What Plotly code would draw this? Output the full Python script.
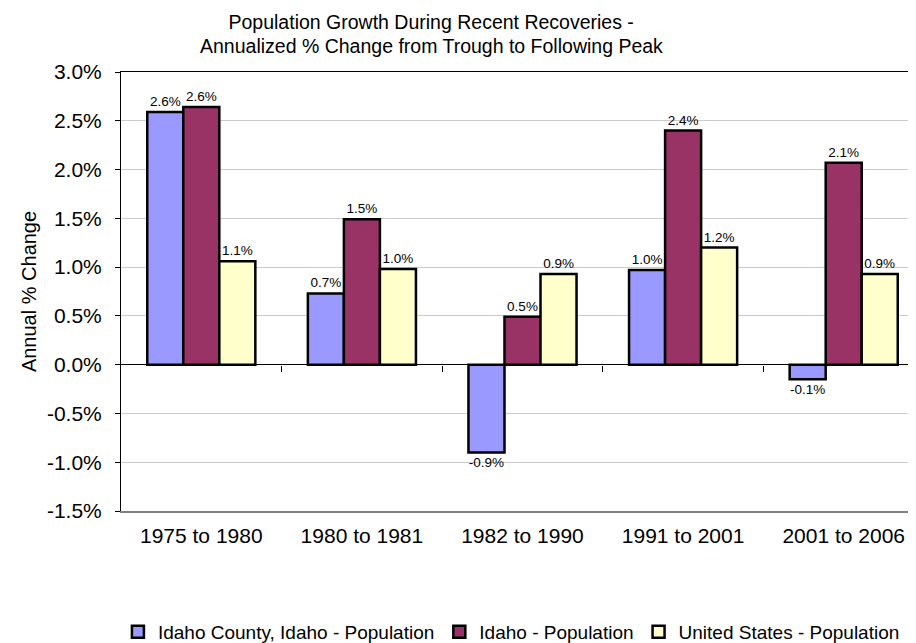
import plotly.graph_objects as go

categories = ["1975 to 1980", "1980 to 1981", "1982 to 1990", "1991 to 2001", "2001 to 2006"]
idaho_county = [2.59, 0.73, -0.90, 0.97, -0.15]
idaho = [2.64, 1.49, 0.49, 2.40, 2.07]
united_states = [1.06, 0.98, 0.93, 1.20, 0.93]

series_names = ["Idaho County, Idaho - Population", "Idaho - Population", "United States - Population"]
series_values = [idaho_county, idaho, united_states]
colors = ["#9999FF", "#993366", "#FFFFCC"]

y_ticks = [-1.5, -1.0, -0.5, 0.0, 0.5, 1.0, 1.5, 2.0, 2.5, 3.0]
y_tick_labels = ["-1.5%", "-1.0%", "-0.5%", "0.0%", "0.5%", "1.0%", "1.5%", "2.0%", "2.5%", "3.0%"]
boundaries = [0.5, 1.5, 2.5, 3.5]

title_line1 = "Population Growth During Recent Recoveries -"
title_line2 = "Annualized % Change from Trough to Following Peak"

FONT = "Liberation Sans, Arial, Helvetica, sans-serif"

fig = go.Figure()
for name, vals, col in zip(series_names, series_values, colors):
    fig.add_trace(go.Bar(
        x=categories, y=vals, name=name,
        marker=dict(color=col, line=dict(color="black", width=2.5)),
        texttemplate="%{y:.1f}%", textposition="outside",
        textfont=dict(size=13.5, color="black", family=FONT),
        constraintext="none", cliponaxis=False,
    ))

# helper axes (zero-line tick marks and top frame line)
fig.add_trace(go.Scatter(x=[], y=[], xaxis="x2", yaxis="y", showlegend=False, hoverinfo="skip"))
fig.add_trace(go.Scatter(x=[], y=[], xaxis="x3", yaxis="y", showlegend=False, hoverinfo="skip"))

fig.update_layout(
    width=916, height=643,
    paper_bgcolor="white", plot_bgcolor="white",
    margin=dict(l=113, r=0, t=64, b=140, autoexpand=False),
    font=dict(family=FONT, size=20, color="black"),
    title=dict(
        text=title_line1,
        x=0.462, xref="container", xanchor="center",
        y=1 - 14 / 643, yref="container", yanchor="middle",
        font=dict(size=19.5, family=FONT, color="black"),
    ),
    annotations=[dict(
        text=title_line2, xref="paper", yref="paper",
        x=(423 - 113) / 803, y=(503 - 38) / 439,
        xanchor="center", yanchor="middle", showarrow=False,
        font=dict(size=19.5, family=FONT, color="black"),
    )],
    barmode="group", bargap=0.327, bargroupgap=0,
    showlegend=True,
    legend=dict(
        orientation="h", x=0.12, xref="container", xanchor="left",
        y=0.0, yref="container", yanchor="bottom",
        font=dict(size=19, family=FONT, color="black"),
        itemwidth=30, tracegroupgap=0, bgcolor="rgba(0,0,0,0)",
    ),
    xaxis=dict(
        type="category", categoryorder="array", categoryarray=categories,
        range=[-0.5, 4.5],
        showline=True, linecolor="#808080", linewidth=2,
        ticks="", showgrid=False, zeroline=False,
        ticklabelstandoff=5, tickangle=0,
        tickfont=dict(size=21, family=FONT, color="black"),
    ),
    xaxis2=dict(
        overlaying="x", anchor="free", position=1/3,
        type="linear", range=[-0.5, 4.5],
        tickvals=boundaries, ticks="outside", ticklen=6, tickcolor="black",
        showticklabels=False, showline=False, showgrid=False, zeroline=False,
    ),
    xaxis3=dict(
        overlaying="x", anchor="y", side="top",
        type="linear", range=[-0.5, 4.5],
        showline=True, linecolor="black", linewidth=1,
        ticks="", showticklabels=False, showgrid=False, zeroline=False,
    ),
    yaxis=dict(
        range=[-1.5, 3.0], tickvals=y_ticks, ticktext=y_tick_labels,
        showline=True, linecolor="black", linewidth=1,
        ticks="outside", ticklen=5, tickcolor="black",
        showgrid=True, gridcolor="#CCCCCC", gridwidth=1,
        zeroline=True, zerolinecolor="black", zerolinewidth=1,
        ticklabelstandoff=9,
        tickfont=dict(size=21, family=FONT, color="black"),
        title=dict(text="Annual % Change", standoff=4, font=dict(size=20, family=FONT, color="black")),
    ),
)

fig.write_html("out.html")
